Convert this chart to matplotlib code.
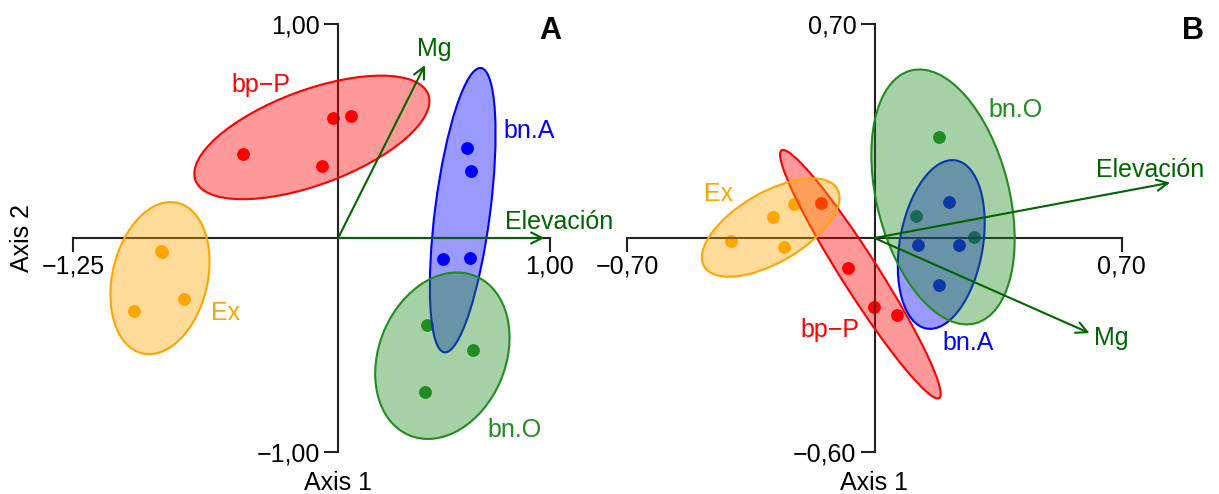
import numpy as np
import matplotlib.pyplot as plt
from matplotlib.patches import Ellipse

plt.rcParams['font.family'] = ['Liberation Sans', 'DejaVu Sans']

# groups, in drawing order
groups = ["bp−P", "bn.A", "bn.O", "Ex"]
colors = ["red", "blue", "forestgreen", "orange"]
arrow_color = "darkgreen"

# ---- panel A ----
a_x = [[-0.450, -0.077, -0.024, 0.061],
       [0.610, 0.625, 0.496, 0.621],
       [0.419, 0.638, 0.412],
       [-0.836, -0.833, -0.726, -0.963]]
a_y = [[0.391, 0.338, 0.560, 0.568],
       [0.419, 0.312, -0.099, -0.094],
       [-0.408, -0.523, -0.719],
       [-0.060, -0.067, -0.284, -0.339]]
a_ell_cx = [-0.124, 0.588, 0.492, -0.841]
a_ell_cy = [0.47, 0.13, -0.55, -0.1875]
a_ell_w = [1.17, 1.34, 0.807, 0.723]
a_ell_h = [0.443, 0.26, 0.597, 0.449]
a_ell_ang = [20, 82.6, 66.8, 76.6]
a_lab_x = [-0.364, 0.901, 0.831, -0.529]
a_lab_y = [0.713, 0.502, -0.895, -0.350]
a_vec_names = ["Mg", "Elevación"]
a_vec_x = [0.410, 0.974]
a_vec_y = [0.808, 0.0]
a_xticks = [-1.25, 1.00]
a_xticklabels = ["−1,25", "1,00"]
a_yticks = [-1.0, 1.0]
a_yticklabels = ["−1,00", "1,00"]

# ---- panel B ----
b_x = [[-0.151, -0.074, -0.002, 0.063],
       [0.212, 0.122, 0.238, 0.182],
       [0.184, 0.118, 0.281],
       [-0.406, -0.287, -0.228, -0.256]]
b_y = [[0.097, -0.082, -0.191, -0.214],
       [0.101, -0.019, -0.019, -0.131],
       [0.279, 0.062, 0.002],
       [-0.007, 0.057, 0.093, -0.026]]
b_ell_cx = [-0.040, 0.189, 0.194, -0.294]
b_ell_cy = [-0.1005, -0.018, 0.114, 0.029]
b_ell_w = [0.82, 0.474, 0.725, 0.434]
b_ell_h = [0.104, 0.235, 0.374, 0.195]
b_ell_ang = [123, 79.8, 104.7, 29.5]
b_lab_x = [-0.125, 0.265, 0.400, -0.441]
b_lab_y = [-0.254, -0.292, 0.354, 0.123]
b_vec_names = ["Mg", "Elevación"]
b_vec_x = [0.609, 0.837]
b_vec_y = [-0.264, 0.1535]
b_xticks = [-0.70, 0.70]
b_xticklabels = ["−0,70", "0,70"]
b_yticks = [-0.594, 0.594]
b_yticklabels = ["−0,60", "0,70"]


def draw_panel(ax, xs, ys, cx, cy, w, h, ang, lx, ly, vnames, vx, vy, vlab,
               xticks, xlabels, yticks, ylabels):
    ax.set_xlim(xticks[0], xticks[-1])
    ax.set_ylim(yticks[0], yticks[-1])
    for s in ['top', 'right']:
        ax.spines[s].set_visible(False)
    ax.spines['left'].set_position(('data', 0))
    ax.spines['bottom'].set_position(('data', 0))
    for s in ['left', 'bottom']:
        ax.spines[s].set_linewidth(1.5)
        ax.spines[s].set_color('#222222')
    ax.set_xticks(xticks)
    ax.set_xticklabels(xlabels)
    ax.set_yticks(yticks)
    ax.set_yticklabels(ylabels)
    ax.tick_params(direction='out', length=10, width=1.5, color='#222222',
                   labelsize=18)
    ax.tick_params(axis='x', pad=2)
    ax.tick_params(axis='y', pad=3)
    ax.patch.set_visible(False)

    # points first, translucent ellipses over them
    for i in range(len(groups)):
        ax.scatter(xs[i], ys[i], s=85, color=colors[i], zorder=2,
                   linewidths=0, clip_on=False)
    for i in range(len(groups)):
        e = Ellipse((cx[i], cy[i]), w[i], h[i], angle=ang[i],
                    facecolor=colors[i], alpha=0.4, edgecolor='none',
                    zorder=3, clip_on=False)
        ax.add_patch(e)
        e2 = Ellipse((cx[i], cy[i]), w[i], h[i], angle=ang[i],
                     facecolor='none', edgecolor=colors[i], lw=1.5,
                     zorder=3, clip_on=False)
        ax.add_patch(e2)
        ax.text(lx[i], ly[i], groups[i], color=colors[i], fontsize=18,
                ha='center', va='center', zorder=5)

    for i in range(len(vnames)):
        ax.annotate('', xy=(vx[i], vy[i]), xytext=(0, 0),
                    arrowprops=dict(arrowstyle='->', color=arrow_color, lw=1.5,
                                    mutation_scale=20, shrinkA=0, shrinkB=0),
                    zorder=4, annotation_clip=False)
        tx, ty, ha, va = vlab[i]
        ax.text(tx, ty, vnames[i], color=arrow_color, fontsize=18,
                ha=ha, va=va, zorder=5, clip_on=False)

    ax.annotate('Axis 1', xy=(0, yticks[0]), xytext=(0, -22),
                textcoords='offset points', ha='center', va='center',
                fontsize=18, annotation_clip=False)


fig = plt.figure(figsize=(12.19, 4.94), dpi=100)
W, H = 1219, 494
ax_a = fig.add_axes([73.3 / W, (H - 452) / H, 476.7 / W, 428 / H])
ax_b = fig.add_axes([627.3 / W, (H - 452) / H, 494.4 / W, 428 / H])

draw_panel(ax_a, a_x, a_y, a_ell_cx, a_ell_cy, a_ell_w, a_ell_h, a_ell_ang,
           a_lab_x, a_lab_y, a_vec_names, a_vec_x, a_vec_y,
           [(0.456, 0.885, 'center', 'center'), (0.787, 0.042, 'left', 'baseline')],
           a_xticks, a_xticklabels, a_yticks, a_yticklabels)
draw_panel(ax_b, b_x, b_y, b_ell_cx, b_ell_cy, b_ell_w, b_ell_h, b_ell_ang,
           b_lab_x, b_lab_y, b_vec_names, b_vec_x, b_vec_y,
           [(0.670, -0.278, 'center', 'center'), (0.628, 0.170, 'left', 'baseline')],
           b_xticks, b_xticklabels, b_yticks, b_yticklabels)

fig.text(22 / W, 1 - 238 / H, 'Axis 2', rotation=90, fontsize=18,
         ha='center', va='center')
fig.text(550 / W, 1 - 31 / H, 'A', fontsize=22, fontweight='bold',
         ha='center', va='center')
fig.text(1192.5 / W, 1 - 31 / H, 'B', fontsize=22, fontweight='bold',
         ha='center', va='center')

fig.savefig('out.png', dpi=100)
